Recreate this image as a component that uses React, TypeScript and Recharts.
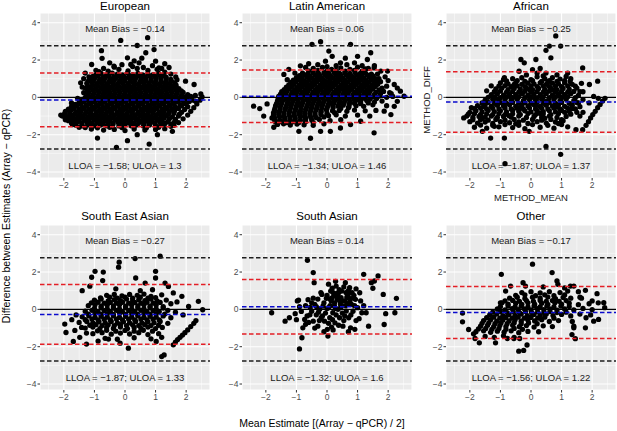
import React from 'react';
import {
  ScatterChart,
  Scatter,
  XAxis,
  YAxis,
  CartesianGrid,
  ReferenceLine,
  ReferenceDot,
} from 'recharts';

// values
const panelTitles = ['European', 'Latin American', 'African', 'South East Asian', 'South Asian', 'Other'];
const meanBias = [-0.14, 0.06, -0.25, -0.27, 0.14, -0.17];
const lloa = [-1.58, -1.34, -1.87, -1.87, -1.32, -1.56];
const uloa = [1.3, 1.46, 1.37, 1.33, 1.6, 1.22];
const outerLimits = [-2.77, 2.77];
const xTicks = [-2, -1, 0, 1, 2];
const yTicks = [-4, -2, 0, 2, 4];
const xMinor = [-2.5, -1.5, -0.5, 0.5, 1.5, 2.5];
const yMinor = [-3, -1, 1, 3];

const european: [number, number][] = [
  [-0.95, 1.45], [-0.7, 1.55], [-0.35, 1.62], [0.25, 1.65], [0.6, 1.6], [0.9, 1.7], [1.2, 1.55], [1.5, 1.25], [1.7, 0.95], [-1.35, 1.0], [-1.4, 0.55], [-0.1, 1.75], [1.3, 1.8], [-1.3, 1.3],
  [-0.55, 1.4], [-0.2, 1.5], [0.1, 1.42], [0.4, 1.55], [0.75, 1.45], [1.05, 1.5], [-0.85, 1.38], [1.3, 1.35],
  [-0.95, 1.22], [-0.78, 1.28], [-0.6, 1.2], [-0.42, 1.3], [-0.25, 1.24], [-0.08, 1.2], [0.08, 1.3], [0.25, 1.22], [0.42, 1.28], [0.58, 1.2], [0.75, 1.26], [0.92, 1.22], [1.1, 1.28], [1.25, 1.18],
  [-1.05, 1.12], [-0.88, 1.15], [-0.71, 1.1], [-0.54, 1.14], [-0.37, 1.11], [-0.2, 1.15], [-0.03, 1.1], [0.14, 1.13], [0.31, 1.11], [0.48, 1.15], [0.65, 1.1], [0.82, 1.14], [0.99, 1.11], [1.16, 1.15], [1.33, 1.1],
  [-1.15, 1.0], [-0.98, 1.05], [-0.82, 0.97], [-0.65, 1.03], [-0.48, 0.98], [-0.3, 1.04], [-0.14, 0.98], [0.02, 1.02], [0.18, 0.97], [0.35, 1.04], [0.52, 0.99], [0.68, 1.03], [0.85, 0.97], [1.02, 1.02], [1.18, 0.98], [1.35, 1.04], [1.5, 0.96],
  [-1.2, 0.87], [-1.03, 0.9], [-0.86, 0.85], [-0.69, 0.89], [-0.52, 0.86], [-0.35, 0.9], [-0.18, 0.85], [-0.01, 0.88], [0.16, 0.86], [0.33, 0.9], [0.5, 0.85], [0.67, 0.89], [0.84, 0.86], [1.01, 0.9], [1.18, 0.85], [1.35, 0.88], [1.52, 0.86],
  [-1.25, 0.75], [-1.08, 0.78], [-0.92, 0.72], [-0.75, 0.77], [-0.58, 0.73], [-0.41, 0.78], [-0.24, 0.72], [-0.07, 0.76], [0.1, 0.73], [0.27, 0.78], [0.44, 0.72], [0.61, 0.77], [0.78, 0.73], [0.95, 0.78], [1.12, 0.72], [1.29, 0.76], [1.46, 0.74], [1.63, 0.77],
  [-1.22, 0.62], [-1.05, 0.65], [-0.88, 0.6], [-0.71, 0.64], [-0.54, 0.61], [-0.37, 0.65], [-0.2, 0.6], [-0.03, 0.63], [0.14, 0.61], [0.31, 0.65], [0.48, 0.6], [0.65, 0.64], [0.82, 0.61], [0.99, 0.65], [1.16, 0.6], [1.33, 0.63], [1.5, 0.61], [1.67, 0.65],
  [-1.3, 0.5], [-1.13, 0.53], [-0.96, 0.47], [-0.79, 0.52], [-0.62, 0.48], [-0.45, 0.53], [-0.28, 0.47], [-0.11, 0.51], [0.06, 0.48], [0.23, 0.53], [0.4, 0.47], [0.57, 0.52], [0.74, 0.48], [0.91, 0.53], [1.08, 0.47], [1.25, 0.52], [1.42, 0.48], [1.59, 0.53], [1.76, 0.47],
  [-1.22, 0.37], [-1.05, 0.4], [-0.88, 0.35], [-0.71, 0.39], [-0.54, 0.36], [-0.37, 0.4], [-0.2, 0.35], [-0.03, 0.38], [0.14, 0.36], [0.31, 0.4], [0.48, 0.35], [0.65, 0.39], [0.82, 0.36], [0.99, 0.4], [1.16, 0.35], [1.33, 0.38], [1.5, 0.36], [1.67, 0.4], [1.84, 0.35],
  [-1.35, 0.25], [-1.18, 0.28], [-1.01, 0.22], [-0.84, 0.27], [-0.67, 0.23], [-0.5, 0.28], [-0.33, 0.22], [-0.16, 0.26], [0.01, 0.23], [0.18, 0.28], [0.35, 0.22], [0.52, 0.27], [0.69, 0.23], [0.86, 0.28], [1.03, 0.22], [1.2, 0.26], [1.37, 0.23], [1.54, 0.28], [1.71, 0.22], [1.9, 0.27],
  [-1.22, 0.12], [-1.05, 0.15], [-0.88, 0.1], [-0.71, 0.14], [-0.54, 0.11], [-0.37, 0.15], [-0.2, 0.1], [-0.03, 0.13], [0.14, 0.11], [0.31, 0.15], [0.48, 0.1], [0.65, 0.14], [0.82, 0.11], [0.99, 0.15], [1.16, 0.1], [1.33, 0.13], [1.5, 0.11], [1.67, 0.15], [1.85, 0.1], [2.05, 0.14],
  [-1.3, 0.0], [-1.13, 0.03], [-0.96, -0.03], [-0.79, 0.02], [-0.62, -0.02], [-0.45, 0.03], [-0.28, -0.03], [-0.11, 0.01], [0.06, -0.02], [0.23, 0.03], [0.4, -0.03], [0.57, 0.02], [0.74, -0.02], [0.91, 0.03], [1.08, -0.03], [1.25, 0.01], [1.42, -0.02], [1.59, 0.03], [1.76, -0.03], [1.95, 0.02], [2.15, 0.05], [2.3, 0.1],
  [-1.4, -0.13], [-1.22, -0.1], [-1.05, -0.15], [-0.88, -0.11], [-0.71, -0.14], [-0.54, -0.1], [-0.37, -0.15], [-0.2, -0.12], [-0.03, -0.14], [0.14, -0.1], [0.31, -0.15], [0.48, -0.11], [0.65, -0.14], [0.82, -0.1], [0.99, -0.15], [1.16, -0.12], [1.33, -0.14], [1.5, -0.1], [1.67, -0.15], [1.85, -0.12], [2.02, -0.1], [2.2, -0.14],
  [-1.5, -0.25], [-1.33, -0.22], [-1.16, -0.28], [-0.99, -0.23], [-0.82, -0.27], [-0.65, -0.22], [-0.48, -0.28], [-0.31, -0.24], [-0.14, -0.27], [0.03, -0.22], [0.2, -0.28], [0.37, -0.23], [0.54, -0.27], [0.71, -0.22], [0.88, -0.28], [1.05, -0.24], [1.22, -0.27], [1.39, -0.22], [1.56, -0.28], [1.73, -0.23], [1.92, -0.3], [2.1, -0.22], [2.3, -0.2],
  [-1.62, -0.38], [-1.45, -0.35], [-1.28, -0.4], [-1.11, -0.36], [-0.94, -0.39], [-0.77, -0.35], [-0.6, -0.4], [-0.43, -0.37], [-0.26, -0.39], [-0.09, -0.35], [0.08, -0.4], [0.25, -0.36], [0.42, -0.39], [0.59, -0.35], [0.76, -0.4], [0.93, -0.37], [1.1, -0.39], [1.27, -0.35], [1.44, -0.4], [1.61, -0.36], [1.8, -0.39], [2.0, -0.36],
  [-1.75, -0.5], [-1.58, -0.47], [-1.41, -0.53], [-1.24, -0.48], [-1.07, -0.52], [-0.9, -0.47], [-0.73, -0.53], [-0.56, -0.49], [-0.39, -0.52], [-0.22, -0.47], [-0.05, -0.53], [0.12, -0.48], [0.29, -0.52], [0.46, -0.47], [0.63, -0.53], [0.8, -0.49], [0.97, -0.52], [1.14, -0.47], [1.31, -0.53], [1.48, -0.48], [1.65, -0.52], [1.85, -0.45], [2.05, -0.5],
  [-1.85, -0.63], [-1.68, -0.6], [-1.51, -0.65], [-1.34, -0.61], [-1.17, -0.64], [-1.0, -0.6], [-0.83, -0.65], [-0.66, -0.62], [-0.49, -0.64], [-0.32, -0.6], [-0.15, -0.65], [0.02, -0.61], [0.19, -0.64], [0.36, -0.6], [0.53, -0.65], [0.7, -0.62], [0.87, -0.64], [1.04, -0.6], [1.21, -0.65], [1.38, -0.61], [1.55, -0.64], [1.75, -0.6], [1.95, -0.65],
  [-1.95, -0.75], [-1.78, -0.72], [-1.61, -0.78], [-1.44, -0.73], [-1.27, -0.77], [-1.1, -0.72], [-0.93, -0.78], [-0.76, -0.74], [-0.59, -0.77], [-0.42, -0.72], [-0.25, -0.78], [-0.08, -0.73], [0.09, -0.77], [0.26, -0.72], [0.43, -0.78], [0.6, -0.74], [0.77, -0.77], [0.94, -0.72], [1.11, -0.78], [1.28, -0.73], [1.45, -0.77], [1.62, -0.72], [1.85, -0.8],
  [-1.98, -0.88], [-1.81, -0.85], [-1.64, -0.9], [-1.47, -0.86], [-1.3, -0.89], [-1.13, -0.85], [-0.96, -0.9], [-0.79, -0.87], [-0.62, -0.89], [-0.45, -0.85], [-0.28, -0.9], [-0.11, -0.86], [0.06, -0.89], [0.23, -0.85], [0.4, -0.9], [0.57, -0.87], [0.74, -0.89], [0.91, -0.85], [1.08, -0.9], [1.25, -0.86], [1.42, -0.89], [1.6, -0.85], [1.78, -0.9],
  [-2.05, -1.0], [-1.88, -1.03], [-1.71, -0.97], [-1.54, -1.02], [-1.37, -0.98], [-1.2, -1.03], [-1.03, -0.97], [-0.86, -1.01], [-0.69, -0.98], [-0.52, -1.03], [-0.35, -0.97], [-0.18, -1.02], [-0.01, -0.98], [0.16, -1.03], [0.33, -0.97], [0.5, -1.01], [0.67, -0.98], [0.84, -1.03], [1.01, -0.97], [1.18, -1.02], [1.35, -0.98], [1.55, -1.05], [1.75, -1.0],
  [-1.95, -1.13], [-1.78, -1.1], [-1.61, -1.15], [-1.44, -1.11], [-1.27, -1.14], [-1.1, -1.1], [-0.93, -1.15], [-0.76, -1.12], [-0.59, -1.14], [-0.42, -1.1], [-0.25, -1.15], [-0.08, -1.11], [0.09, -1.14], [0.26, -1.1], [0.43, -1.15], [0.6, -1.12], [0.77, -1.14], [0.94, -1.1], [1.11, -1.15], [1.28, -1.11], [1.45, -1.14], [1.65, -1.18],
  [-1.85, -1.25], [-1.68, -1.22], [-1.51, -1.28], [-1.34, -1.23], [-1.17, -1.27], [-1.0, -1.22], [-0.83, -1.28], [-0.66, -1.24], [-0.49, -1.27], [-0.32, -1.22], [-0.15, -1.28], [0.02, -1.23], [0.19, -1.27], [0.36, -1.22], [0.53, -1.28], [0.7, -1.24], [0.87, -1.27], [1.04, -1.22], [1.21, -1.28], [1.4, -1.3], [1.62, -1.32],
  [-1.75, -1.38], [-1.58, -1.35], [-1.41, -1.4], [-1.24, -1.36], [-1.07, -1.39], [-0.9, -1.35], [-0.73, -1.4], [-0.56, -1.37], [-0.39, -1.39], [-0.22, -1.35], [-0.05, -1.4], [0.12, -1.36], [0.29, -1.39], [0.46, -1.35], [0.63, -1.4], [0.8, -1.37], [0.97, -1.39], [1.14, -1.35], [1.31, -1.4], [1.5, -1.42],
  [-1.62, -1.48], [-1.4, -1.52], [-1.2, -1.47], [-1.0, -1.53], [-0.8, -1.48], [-0.6, -1.52], [-0.4, -1.47], [-0.2, -1.53], [0.0, -1.48], [0.2, -1.52], [0.4, -1.47], [0.6, -1.53], [0.8, -1.48], [1.0, -1.52], [1.2, -1.47], [1.5, -1.55],
  [-1.5, -1.6], [-1.3, -1.62], [-1.1, -1.58], [-0.9, -1.63], [-0.5, -1.6], [-0.1, -1.62], [0.3, -1.58], [0.7, -1.63], [1.1, -1.6],
  [-1.1, -1.7], [-0.7, -1.75], [-0.35, -1.72], [0.0, -1.78], [0.3, -1.7], [0.65, -1.75], [1.0, -1.72], [1.3, -1.68],
  [1.6, -1.5], [1.75, -1.35], [1.9, -1.15], [2.05, -0.95], [2.15, -0.75], [2.25, -0.55], [2.35, -0.35], [2.45, -0.15], [2.52, 0.02],
  [-0.14, 3.05], [0.74, 3.2], [-0.77, 2.5], [0.4, 2.78], [0.95, 2.56], [0.68, 2.39], [-0.75, 2.09], [-1.09, 1.76], [0.08, 2.12], [0.19, 1.76], [0.46, 1.85], [1.0, 1.94], [1.11, 1.58], [1.44, 1.6], [1.66, 1.1], [1.98, 0.87], [2.26, 0.69], [2.48, 0.18], [-1.45, 0.78], [-1.18, 1.1], [-0.36, 1.67], [-0.9, -2.18], [-0.28, -2.68], [0.08, -2.32], [0.79, -2.5], [0.4, -2.0], [1.55, -1.82], [1.06, -2.0], [-1.95, -1.2], [-1.72, -1.46], [-2.1, -0.95], [-1.75, -0.3], [-1.55, -0.05], [0.3, 1.95], [0.55, 2.1], [-0.5, 1.85],
];

const latinAmerican: [number, number][] = [
  [-0.7, 1.6], [-0.3, 1.75], [0.3, 1.7], [0.65, 1.75], [1.15, 1.7], [1.35, 1.55], [1.65, 1.25], [1.9, 1.1], [-1.05, 1.3], [-1.3, 0.95], [1.95, 0.6], [2.1, 0.2], [0.0, 1.65], [1.55, 1.7],
  [-0.45, 1.55], [-0.15, 1.6], [0.15, 1.5], [0.45, 1.58], [0.75, 1.5], [1.0, 1.62], [1.25, 1.52],
  [-0.6, 1.42], [-0.3, 1.45], [0.0, 1.4], [0.3, 1.44], [0.6, 1.41], [0.9, 1.45], [1.15, 1.4],
  [-0.8, 1.3], [-0.62, 1.27], [-0.45, 1.33], [-0.28, 1.28], [-0.1, 1.32], [0.07, 1.27], [0.24, 1.33], [0.41, 1.28], [0.58, 1.32], [0.75, 1.27], [0.92, 1.33], [1.09, 1.28], [1.26, 1.3], [1.45, 1.25],
  [-0.9, 1.17], [-0.73, 1.2], [-0.56, 1.15], [-0.39, 1.19], [-0.22, 1.16], [-0.05, 1.2], [0.12, 1.15], [0.29, 1.18], [0.46, 1.16], [0.63, 1.2], [0.8, 1.15], [0.97, 1.19], [1.14, 1.16], [1.31, 1.2], [1.5, 1.15],
  [-1.0, 1.05], [-0.83, 1.02], [-0.66, 1.08], [-0.49, 1.03], [-0.32, 1.07], [-0.15, 1.02], [0.02, 1.08], [0.19, 1.04], [0.36, 1.07], [0.53, 1.02], [0.7, 1.08], [0.87, 1.03], [1.04, 1.07], [1.21, 1.02], [1.38, 1.08], [1.58, 1.0],
  [-1.1, 0.92], [-0.93, 0.95], [-0.76, 0.9], [-0.59, 0.94], [-0.42, 0.91], [-0.25, 0.95], [-0.08, 0.9], [0.09, 0.93], [0.26, 0.91], [0.43, 0.95], [0.6, 0.9], [0.77, 0.94], [0.94, 0.91], [1.11, 0.95], [1.28, 0.9], [1.45, 0.93], [1.65, 0.91],
  [-1.18, 0.8], [-1.01, 0.83], [-0.84, 0.77], [-0.67, 0.82], [-0.5, 0.78], [-0.33, 0.83], [-0.16, 0.77], [0.01, 0.81], [0.18, 0.78], [0.35, 0.83], [0.52, 0.77], [0.69, 0.82], [0.86, 0.78], [1.03, 0.83], [1.2, 0.77], [1.37, 0.81], [1.55, 0.78], [1.75, 0.84],
  [-1.25, 0.67], [-1.08, 0.7], [-0.91, 0.65], [-0.74, 0.69], [-0.57, 0.66], [-0.4, 0.7], [-0.23, 0.65], [-0.06, 0.68], [0.11, 0.66], [0.28, 0.7], [0.45, 0.65], [0.62, 0.69], [0.79, 0.66], [0.96, 0.7], [1.13, 0.65], [1.3, 0.68], [1.47, 0.66], [1.66, 0.7],
  [-1.33, 0.55], [-1.16, 0.58], [-0.99, 0.52], [-0.82, 0.57], [-0.65, 0.53], [-0.48, 0.58], [-0.31, 0.52], [-0.14, 0.56], [0.03, 0.53], [0.2, 0.58], [0.37, 0.52], [0.54, 0.57], [0.71, 0.53], [0.88, 0.58], [1.05, 0.52], [1.22, 0.56], [1.39, 0.53], [1.58, 0.58], [1.8, 0.5],
  [-1.4, 0.42], [-1.23, 0.45], [-1.06, 0.4], [-0.89, 0.44], [-0.72, 0.41], [-0.55, 0.45], [-0.38, 0.4], [-0.21, 0.43], [-0.04, 0.41], [0.13, 0.45], [0.3, 0.4], [0.47, 0.44], [0.64, 0.41], [0.81, 0.45], [0.98, 0.4], [1.15, 0.43], [1.32, 0.41], [1.5, 0.45], [1.7, 0.4],
  [-1.48, 0.3], [-1.31, 0.33], [-1.14, 0.27], [-0.97, 0.32], [-0.8, 0.28], [-0.63, 0.33], [-0.46, 0.27], [-0.29, 0.31], [-0.12, 0.28], [0.05, 0.33], [0.22, 0.27], [0.39, 0.32], [0.56, 0.28], [0.73, 0.33], [0.9, 0.27], [1.07, 0.31], [1.24, 0.28], [1.41, 0.33], [1.6, 0.27], [1.85, 0.32], [2.05, 0.25],
  [-1.52, 0.17], [-1.35, 0.2], [-1.18, 0.15], [-1.01, 0.19], [-0.84, 0.16], [-0.67, 0.2], [-0.5, 0.15], [-0.33, 0.18], [-0.16, 0.16], [0.01, 0.2], [0.18, 0.15], [0.35, 0.19], [0.52, 0.16], [0.69, 0.2], [0.86, 0.15], [1.03, 0.18], [1.2, 0.16], [1.37, 0.2], [1.55, 0.15], [1.75, 0.19],
  [-1.58, 0.05], [-1.41, 0.08], [-1.24, 0.02], [-1.07, 0.07], [-0.9, 0.03], [-0.73, 0.08], [-0.56, 0.02], [-0.39, 0.06], [-0.22, 0.03], [-0.05, 0.08], [0.12, 0.02], [0.29, 0.07], [0.46, 0.03], [0.63, 0.08], [0.8, 0.02], [0.97, 0.06], [1.14, 0.03], [1.31, 0.08], [1.5, 0.02], [1.72, 0.07], [1.95, 0.0], [2.15, 0.05],
  [-1.6, -0.08], [-1.5, -0.05], [-1.33, -0.1], [-1.16, -0.06], [-0.99, -0.09], [-0.82, -0.05], [-0.65, -0.1], [-0.48, -0.07], [-0.31, -0.09], [-0.14, -0.05], [0.03, -0.1], [0.2, -0.06], [0.37, -0.09], [0.54, -0.05], [0.71, -0.1], [0.88, -0.07], [1.05, -0.09], [1.22, -0.05], [1.4, -0.1], [1.62, -0.06],
  [-1.62, -0.2], [-1.45, -0.17], [-1.28, -0.23], [-1.11, -0.18], [-0.94, -0.22], [-0.77, -0.17], [-0.6, -0.23], [-0.43, -0.19], [-0.26, -0.22], [-0.09, -0.17], [0.08, -0.23], [0.25, -0.18], [0.42, -0.22], [0.59, -0.17], [0.76, -0.23], [0.93, -0.19], [1.1, -0.22], [1.3, -0.17], [1.55, -0.25], [1.8, -0.2],
  [-1.65, -0.33], [-1.48, -0.3], [-1.31, -0.35], [-1.14, -0.31], [-0.97, -0.34], [-0.8, -0.3], [-0.63, -0.35], [-0.46, -0.32], [-0.29, -0.34], [-0.12, -0.3], [0.05, -0.35], [0.22, -0.31], [0.39, -0.34], [0.56, -0.3], [0.73, -0.35], [0.9, -0.32], [1.1, -0.34], [1.35, -0.3],
  [-1.68, -0.45], [-1.51, -0.42], [-1.34, -0.48], [-1.17, -0.43], [-1.0, -0.47], [-0.83, -0.42], [-0.66, -0.48], [-0.49, -0.44], [-0.32, -0.47], [-0.15, -0.42], [0.02, -0.48], [0.19, -0.43], [0.36, -0.47], [0.53, -0.42], [0.72, -0.5], [0.95, -0.45], [1.2, -0.48], [1.5, -0.4],
  [-1.7, -0.58], [-1.53, -0.55], [-1.36, -0.6], [-1.19, -0.56], [-1.02, -0.59], [-0.85, -0.55], [-0.68, -0.6], [-0.51, -0.57], [-0.34, -0.59], [-0.17, -0.55], [0.0, -0.6], [0.2, -0.56], [0.45, -0.59], [0.7, -0.55],
  [-1.72, -0.7], [-1.55, -0.73], [-1.38, -0.67], [-1.21, -0.72], [-1.04, -0.68], [-0.87, -0.73], [-0.7, -0.67], [-0.53, -0.71], [-0.36, -0.68], [-0.19, -0.73], [-0.02, -0.67], [0.18, -0.72], [0.4, -0.7], [0.65, -0.75], [0.9, -0.68], [1.25, -0.72],
  [-1.75, -0.83], [-1.58, -0.8], [-1.41, -0.85], [-1.24, -0.81], [-1.07, -0.84], [-0.9, -0.8], [-0.73, -0.85], [-0.56, -0.82], [-0.39, -0.84], [-0.2, -0.8], [0.0, -0.85], [0.25, -0.82],
  [-1.75, -0.95], [-1.58, -0.92], [-1.41, -0.98], [-1.24, -0.93], [-1.07, -0.97], [-0.9, -0.92], [-0.73, -0.98], [-0.56, -0.94], [-0.39, -0.97], [-0.2, -0.92], [0.05, -0.98], [0.3, -0.93], [0.6, -1.0], [1.0, -0.95],
  [-1.72, -1.08], [-1.55, -1.05], [-1.38, -1.1], [-1.21, -1.06], [-1.04, -1.09], [-0.87, -1.05], [-0.7, -1.1], [-0.53, -1.07], [-0.35, -1.09], [-0.1, -1.05],
  [-1.72, -1.2], [-1.55, -1.23], [-1.38, -1.17], [-1.21, -1.22], [-1.04, -1.18], [-0.87, -1.23], [-0.7, -1.17], [-0.5, -1.21], [-0.25, -1.18], [0.1, -1.25], [0.45, -1.2],
  [-1.68, -1.32], [-1.5, -1.3], [-1.32, -1.35], [-1.12, -1.31], [-0.92, -1.34], [-0.7, -1.3], [-0.45, -1.35],
  [-1.62, -1.45], [-1.42, -1.42], [-1.2, -1.48], [-0.98, -1.43], [-0.75, -1.47], [-0.45, -1.5], [-0.1, -1.42],
  [-0.49, 2.84], [-0.21, 2.98], [0.77, 2.84], [0.06, 2.48], [0.17, 2.2], [-0.05, 1.94], [0.44, 1.85], [1.32, 2.03], [1.43, 2.39], [-1.25, 1.5], [-1.41, 1.23], [-0.87, 1.69], [1.54, 1.58], [1.76, 1.41], [1.98, 1.41], [2.2, 0.69], [2.4, 0.33], [2.52, 0.06], [2.3, -0.21], [2.2, -0.48], [2.09, -0.92], [1.87, -0.74], [-2.4, -0.47], [-2.2, -0.6], [-1.96, -0.35], [-2.07, -1.0], [-1.8, -1.1], [-1.74, -1.6], [-0.92, -1.82], [-0.54, -2.19], [-0.21, -1.82], [0.11, -1.82], [0.44, -1.64], [1.54, -1.9], [0.77, -1.46], [1.1, -1.28], [0.6, 2.1], [0.9, 1.85], [-0.6, 1.8], [2.0, 0.9], [1.7, 1.0], [1.6, -0.7], [1.4, -1.0], [2.3, 0.5], [1.95, -0.45], [1.0, 2.2],
];

const african: [number, number][] = [
  [-0.6, 1.0], [-0.3, 1.05], [0.0, 0.95], [0.2, 1.1], [0.45, 1.0], [0.7, 1.05], [0.95, 0.98], [1.3, 1.0],
  [-0.8, 0.88], [-0.45, 0.9], [-0.2, 0.86], [0.05, 0.9], [0.35, 0.86], [0.6, 0.9], [0.85, 0.86], [1.1, 0.9],
  [-1.0, 0.78], [-0.75, 0.72], [-0.5, 0.78], [-0.3, 0.7], [-0.1, 0.76], [0.1, 0.72], [0.3, 0.78], [0.5, 0.7], [0.7, 0.76], [0.9, 0.72], [1.1, 0.78], [1.35, 0.7],
  [-1.05, 0.6], [-0.85, 0.63], [-0.65, 0.58], [-0.45, 0.62], [-0.2, 0.58], [0.0, 0.62], [0.2, 0.58], [0.4, 0.62], [0.6, 0.58], [0.8, 0.62], [1.0, 0.58], [1.2, 0.62], [1.45, 0.6],
  [-1.15, 0.45], [-0.95, 0.5], [-0.75, 0.42], [-0.55, 0.48], [-0.35, 0.44], [-0.15, 0.5], [0.05, 0.42], [0.25, 0.48], [0.45, 0.44], [0.65, 0.5], [0.85, 0.42], [1.05, 0.48], [1.25, 0.44], [1.5, 0.5],
  [-1.2, 0.3], [-1.0, 0.33], [-0.8, 0.28], [-0.6, 0.32], [-0.4, 0.28], [-0.2, 0.33], [0.0, 0.28], [0.2, 0.32], [0.4, 0.28], [0.6, 0.33], [0.8, 0.28], [1.0, 0.32], [1.2, 0.28], [1.4, 0.32],
  [-1.3, 0.15], [-1.1, 0.2], [-0.9, 0.12], [-0.7, 0.18], [-0.5, 0.14], [-0.3, 0.2], [-0.1, 0.12], [0.1, 0.18], [0.3, 0.14], [0.5, 0.2], [0.7, 0.12], [0.9, 0.18], [1.1, 0.14], [1.3, 0.2], [1.55, 0.1],
  [-1.4, 0.0], [-1.2, 0.03], [-1.0, -0.02], [-0.8, 0.02], [-0.6, -0.02], [-0.4, 0.03], [-0.2, -0.02], [0.0, 0.02], [0.2, -0.02], [0.4, 0.03], [0.6, -0.02], [0.8, 0.02], [1.0, -0.02], [1.2, 0.03], [1.45, -0.02],
  [-1.5, -0.15], [-1.25, -0.1], [-1.05, -0.18], [-0.85, -0.12], [-0.65, -0.16], [-0.45, -0.1], [-0.25, -0.18], [-0.05, -0.12], [0.15, -0.16], [0.35, -0.1], [0.55, -0.18], [0.75, -0.12], [0.95, -0.16], [1.15, -0.1], [1.4, -0.18], [1.7, -0.12],
  [-1.6, -0.3], [-1.4, -0.27], [-1.2, -0.32], [-1.0, -0.28], [-0.8, -0.32], [-0.6, -0.27], [-0.4, -0.32], [-0.2, -0.28], [0.0, -0.32], [0.2, -0.27], [0.4, -0.32], [0.6, -0.28], [0.8, -0.32], [1.0, -0.27], [1.25, -0.32], [1.5, -0.28],
  [-1.75, -0.45], [-1.5, -0.4], [-1.3, -0.48], [-1.1, -0.42], [-0.9, -0.46], [-0.7, -0.4], [-0.5, -0.48], [-0.3, -0.42], [-0.1, -0.46], [0.1, -0.4], [0.3, -0.48], [0.5, -0.42], [0.7, -0.46], [0.9, -0.4], [1.1, -0.48], [1.35, -0.42], [1.6, -0.5],
  [-1.85, -0.6], [-1.65, -0.57], [-1.45, -0.62], [-1.25, -0.58], [-1.05, -0.62], [-0.85, -0.57], [-0.65, -0.62], [-0.45, -0.58], [-0.25, -0.62], [-0.05, -0.57], [0.15, -0.62], [0.35, -0.58], [0.55, -0.62], [0.75, -0.57], [0.95, -0.62], [1.2, -0.58], [1.45, -0.62],
  [-2.0, -0.8], [-1.8, -0.72], [-1.6, -0.78], [-1.4, -0.7], [-1.2, -0.76], [-1.0, -0.72], [-0.8, -0.78], [-0.6, -0.7], [-0.4, -0.76], [-0.2, -0.72], [0.0, -0.78], [0.2, -0.7], [0.4, -0.76], [0.6, -0.72], [0.8, -0.78], [1.0, -0.7], [1.25, -0.76], [1.5, -0.8],
  [-2.05, -0.9], [-1.85, -0.87], [-1.65, -0.92], [-1.45, -0.88], [-1.25, -0.92], [-1.05, -0.87], [-0.85, -0.92], [-0.6, -0.88], [-0.35, -0.92], [-0.1, -0.87], [0.15, -0.92], [0.4, -0.88], [0.65, -0.92], [0.9, -0.87], [1.3, -0.9],
  [-2.1, -1.0], [-1.9, -1.08], [-1.7, -1.02], [-1.5, -1.06], [-1.3, -1.0], [-1.1, -1.08], [-0.9, -1.02], [-0.65, -1.06], [-0.4, -1.0], [-0.15, -1.08], [0.1, -1.02], [0.35, -1.06], [0.6, -1.0], [0.85, -1.08], [1.15, -1.02],
  [-1.9, -1.2], [-1.65, -1.18], [-1.4, -1.22], [-1.15, -1.18], [-0.85, -1.22], [-0.55, -1.18], [-0.25, -1.22], [0.05, -1.18], [0.35, -1.22], [0.65, -1.18], [1.0, -1.2],
  [-2.0, -1.3], [-1.75, -1.38], [-1.5, -1.32], [-1.25, -1.4], [-1.0, -1.3], [-0.7, -1.36], [-0.4, -1.32], [-0.1, -1.4], [0.2, -1.3], [0.5, -1.38], [0.8, -1.32],
  [-1.65, -1.48], [-1.25, -1.5], [-0.85, -1.46], [-0.4, -1.5], [0.05, -1.46], [0.55, -1.5], [1.0, -1.46],
  [-1.85, -1.6], [-1.45, -1.65], [-1.05, -1.58], [-0.6, -1.62], [-0.2, -1.68], [0.3, -1.6], [0.75, -1.65], [1.2, -1.58],
  [-0.9, 0.95], [-0.15, 1.2], [0.4, 1.15], [0.85, 1.2], [1.15, 1.12], [-1.3, 0.62], [1.65, 0.75], [-1.45, 0.35], [1.6, 0.3], [-0.68, 0.05], [0.12, -0.06], [0.93, 0.08], [-1.15, -0.05], [0.48, -0.22], [-0.32, -0.55], [0.85, -0.52], [-1.55, -0.5], [0.28, -0.85], [-0.72, -0.98], [1.1, -0.8],
  [-1.6, -1.12], [0.45, -1.12], [-0.5, -1.42], [-1.2, -1.55], [0.9, -1.4], [1.35, -0.6], [1.7, -0.8], [1.55, -0.3], [-1.95, -0.55], [-2.2, -1.1], [-0.05, 0.42], [0.72, 0.4], [-0.55, 0.7], [1.28, 0.85], [-0.28, 0.22], [0.55, 0.82], [0.15, -0.45], [-0.88, -0.3], [1.05, -1.25], [0.2, 1.3],
  [1.8, -1.5], [1.88, -1.3], [1.95, -1.1], [2.02, -0.92], [2.1, -0.75], [2.18, -0.55], [2.26, -0.38], [2.34, -0.2], [2.42, -0.05], [1.9, -0.3], [2.05, 0.05], [2.2, -0.05],
  [0.81, 3.29], [0.97, 2.75], [0.6, 2.75], [0.49, 2.52], [0.65, 2.12], [0.16, 2.03], [-0.33, 2.03], [-0.22, 1.85], [-0.39, 1.4], [0.05, 1.49], [1.69, 1.58], [-0.87, 1.05], [1.91, 0.69], [2.18, 0.87], [0.49, 1.3], [-1.32, -2.18], [-0.87, -2.18], [0.49, -2.63], [0.97, -3.05], [-1.59, -1.82], [1.47, -1.73], [1.69, -1.73], [-0.06, -1.82], [0.3, 1.55], [1.2, 1.3], [1.7, 0.3], [1.6, -1.0], [-0.85, -3.55],
];

const southEastAsian: [number, number][] = [
  [-0.6, 0.75], [-0.35, 0.8], [-0.1, 0.72], [0.15, 0.8], [0.4, 0.75], [0.62, 0.82], [0.85, 0.7], [1.2, 0.78],
  [-0.8, 0.62], [-0.5, 0.65], [-0.25, 0.6], [0.0, 0.65], [0.25, 0.6], [0.5, 0.65], [0.75, 0.6], [1.0, 0.63],
  [-1.0, 0.5], [-0.78, 0.55], [-0.55, 0.45], [-0.35, 0.52], [-0.15, 0.47], [0.05, 0.55], [0.25, 0.45], [0.45, 0.52], [0.65, 0.47], [0.85, 0.55], [1.05, 0.45], [1.35, 0.5],
  [-1.1, 0.35], [-0.88, 0.38], [-0.68, 0.33], [-0.48, 0.37], [-0.28, 0.33], [-0.08, 0.38], [0.12, 0.33], [0.32, 0.37], [0.52, 0.33], [0.72, 0.38], [0.92, 0.33], [1.15, 0.37],
  [-1.2, 0.2], [-0.98, 0.25], [-0.78, 0.17], [-0.58, 0.23], [-0.38, 0.18], [-0.18, 0.25], [0.02, 0.17], [0.22, 0.23], [0.42, 0.18], [0.62, 0.25], [0.82, 0.17], [1.02, 0.23], [1.25, 0.15], [1.5, 0.3],
  [-1.0, 0.05], [-0.78, 0.08], [-0.58, 0.03], [-0.38, 0.07], [-0.18, 0.03], [0.02, 0.08], [0.22, 0.03], [0.42, 0.07], [0.62, 0.03], [0.82, 0.08], [1.02, 0.03], [1.25, 0.07],
  [-1.3, -0.1], [-1.08, -0.05], [-0.88, -0.13], [-0.68, -0.07], [-0.48, -0.12], [-0.28, -0.05], [-0.08, -0.13], [0.12, -0.07], [0.32, -0.12], [0.52, -0.05], [0.72, -0.13], [0.92, -0.07], [1.12, -0.12], [1.4, -0.05], [1.65, -0.15],
  [-1.2, -0.25], [-0.98, -0.22], [-0.78, -0.27], [-0.58, -0.23], [-0.38, -0.27], [-0.18, -0.22], [0.02, -0.27], [0.22, -0.23], [0.42, -0.27], [0.62, -0.22], [0.82, -0.27], [1.02, -0.23], [1.3, -0.25],
  [-1.4, -0.4], [-1.18, -0.35], [-0.98, -0.43], [-0.78, -0.37], [-0.58, -0.42], [-0.38, -0.35], [-0.18, -0.43], [0.02, -0.37], [0.22, -0.42], [0.42, -0.35], [0.62, -0.43], [0.82, -0.37], [1.02, -0.42], [1.25, -0.35], [1.5, -0.45],
  [-1.3, -0.55], [-1.08, -0.52], [-0.88, -0.57], [-0.68, -0.53], [-0.48, -0.57], [-0.28, -0.52], [-0.08, -0.57], [0.12, -0.53], [0.32, -0.57], [0.52, -0.52], [0.72, -0.57], [0.92, -0.53], [1.12, -0.57],
  [-1.5, -0.7], [-1.25, -0.65], [-1.05, -0.73], [-0.85, -0.67], [-0.65, -0.72], [-0.45, -0.65], [-0.25, -0.73], [-0.05, -0.67], [0.15, -0.72], [0.35, -0.65], [0.55, -0.73], [0.75, -0.67], [0.95, -0.72], [1.15, -0.65], [1.4, -0.75],
  [-1.15, -0.85], [-0.95, -0.82], [-0.75, -0.87], [-0.55, -0.83], [-0.35, -0.87], [-0.15, -0.82], [0.05, -0.87], [0.25, -0.83], [0.45, -0.87], [0.65, -0.82], [0.85, -0.87], [1.1, -0.85],
  [-1.3, -1.0], [-1.05, -0.95], [-0.82, -1.03], [-0.6, -0.97], [-0.38, -1.02], [-0.15, -0.95], [0.08, -1.03], [0.3, -0.97], [0.52, -1.02], [0.75, -0.95], [1.0, -1.03], [1.22, -0.97],
  [-0.9, -1.15], [-0.6, -1.12], [-0.3, -1.17], [0.0, -1.13], [0.3, -1.17], [0.6, -1.12], [0.9, -1.17],
  [-1.05, -1.3], [-0.75, -1.25], [-0.45, -1.33], [-0.15, -1.27], [0.15, -1.32], [0.45, -1.25], [0.75, -1.35], [1.1, -1.3],
  [-0.65, -1.55], [-0.25, -1.6], [0.3, -1.52], [0.85, -1.58], [1.2, -1.5],
  [1.58, -1.9], [1.65, -1.75], [1.72, -1.62], [1.8, -1.5], [1.88, -1.38], [1.96, -1.25], [2.05, -1.1], [2.15, -0.92], [2.25, -0.75], [2.32, -0.6],
  [0.33, 2.72], [1.15, 2.85], [-0.19, 2.53], [-0.21, 2.26], [-0.98, 2.04], [-1.09, 1.72], [-0.71, 2.0], [-0.73, 1.54], [-1.15, 1.24], [-1.4, 1.0], [0.35, 1.68], [1.0, 2.04], [1.0, 1.68], [1.31, 1.41], [1.42, 1.23], [0.66, 1.41], [1.58, 0.88], [1.86, 0.7], [2.08, 0.16], [2.4, 0.43], [2.54, -0.02], [1.2, -2.53], [1.28, -2.44], [1.02, -1.72], [0.11, -2.08], [-0.16, -1.81], [-1.26, -1.86], [-1.69, -1.72], [-1.97, -0.79], [-1.93, -1.24], [-1.64, -1.13], [-1.74, -0.55], [-1.42, -0.97], [-0.88, -1.7], [-0.54, -1.59], [-1.26, -1.27], [-1.48, -1.5], [0.5, 1.0], [-0.3, 1.1], [0.9, 1.05], [1.7, 0.4], [1.9, -0.3], [-1.6, -0.3],
];

const southAsian: [number, number][] = [
  [-0.64, 2.63], [-0.45, 1.97], [-0.42, 1.43], [-1.81, -0.18], [-1.37, -0.63], [-1.23, -0.45], [-1.04, -0.23], [-0.97, 0.45], [-0.93, 0.5], [-0.9, 0.14], [-0.84, -0.11], [-0.73, -0.54], [-0.79, -0.99], [-0.82, -1.52], [-0.9, -2.12],
  [-0.62, 0.52], [-0.56, -0.29], [-0.5, -0.1], [-0.45, -0.63], [-0.4, 0.27], [-0.35, -0.29], [-0.3, -0.9], [-0.24, 0.0], [-0.19, -0.45], [-0.17, 0.8], [-0.13, 0.18], [-0.08, -0.63], [-0.05, -0.2], [-0.02, 0.59], [0.01, -1.07], [0.03, -1.43], [0.05, 0.09], [0.09, -0.45], [0.12, 0.98], [0.14, 0.45], [0.17, 1.13], [0.19, -0.18], [0.22, 0.71], [0.24, 0.18], [0.26, -0.72], [0.3, 1.25], [0.33, 0.54], [0.36, 0.0], [0.38, 0.89], [0.41, -0.45], [0.44, 0.27], [0.46, 0.63], [0.48, 0.98], [0.52, -0.9], [0.58, 0.45], [0.6, 1.43], [0.63, -0.09], [0.69, 0.8], [0.71, -0.45], [0.74, 1.16], [0.77, -0.99], [0.8, 0.27], [0.82, 0.89], [0.85, -0.1], [0.91, -1.07], [0.93, 0.54], [1.0, 0.09], [1.07, 0.89],
  [1.2, 1.88], [1.14, -0.18], [1.28, -0.18], [1.36, -0.9], [1.45, 1.43], [1.55, 1.52], [1.5, 1.13], [1.67, 1.79], [1.84, 0.8], [1.92, -0.23], [1.87, -0.81], [2.27, 0.59], [2.22, -0.18],
  [-0.7, 0.2], [-0.6, -0.7], [-0.55, 0.1], [-0.3, 0.55], [-0.25, -0.6], [-0.1, 0.35], [0.0, 0.75], [0.05, -0.75], [0.1, 0.2], [0.15, -0.95], [0.2, 0.9], [0.25, 0.35], [0.3, -0.3], [0.35, 0.7], [0.4, 1.05], [0.45, 0.1], [0.5, 0.45], [0.55, -0.6], [0.6, 0.2], [0.65, 0.65], [0.7, 1.0], [0.75, 0.4], [0.85, 0.6], [0.9, 0.2], [0.95, 1.1], [0.2, -1.1], [-0.1, -1.2], [-0.4, -1.0], [-0.65, -0.35], [0.05, 1.35], [0.28, 1.5], [0.55, 1.2], [-0.2, 0.9], [-0.5, 0.35], [0.7, -1.2], [1.1, 0.45], [1.2, 0.2], [-1.0, -0.55], [-0.7, -0.8], [0.15, 0.6],
  [-0.35, 0.15], [-0.15, -0.35], [0.0, 0.05], [0.1, 0.55], [0.18, -0.55], [0.28, 0.05], [0.32, 0.85], [0.42, 0.45], [0.5, -0.2], [0.62, 0.9], [0.68, 0.3], [0.78, -0.3], [0.88, 0.75], [0.95, -0.6], [-0.45, 0.6], [-0.28, -0.15], [0.38, -0.85], [0.58, -0.35], [0.72, 0.6], [1.05, -0.5],
];

const other: [number, number][] = [
  [-0.3, 0.9], [0.0, 0.95], [0.3, 0.88], [0.6, 0.95], [0.95, 0.9], [1.2, 0.98],
  [-0.5, 0.75], [-0.2, 0.78], [0.15, 0.73], [0.45, 0.78], [0.75, 0.73], [1.1, 0.77],
  [-0.7, 0.6], [-0.45, 0.65], [-0.2, 0.58], [0.05, 0.65], [0.3, 0.6], [0.55, 0.66], [0.8, 0.58], [1.05, 0.64], [1.3, 0.6], [1.6, 0.65],
  [-0.85, 0.45], [-0.6, 0.48], [-0.38, 0.43], [-0.15, 0.47], [0.08, 0.43], [0.3, 0.48], [0.5, 0.43], [0.7, 0.47], [0.92, 0.43], [1.15, 0.47],
  [-1.0, 0.35], [-0.75, 0.28], [-0.5, 0.33], [-0.3, 0.27], [-0.1, 0.35], [0.12, 0.28], [0.35, 0.33], [0.55, 0.27], [0.78, 0.35], [1.0, 0.28], [1.25, 0.33], [1.55, 0.25], [1.9, 0.3], [2.2, 0.35],
  [-1.0, 0.15], [-0.75, 0.18], [-0.52, 0.13], [-0.32, 0.17], [-0.1, 0.13], [0.1, 0.18], [0.3, 0.13], [0.52, 0.17], [0.75, 0.13], [0.98, 0.17], [1.25, 0.15],
  [-1.1, 0.02], [-0.85, -0.03], [-0.62, 0.04], [-0.42, -0.02], [-0.22, 0.03], [0.0, -0.03], [0.2, 0.04], [0.42, -0.02], [0.62, 0.03], [0.85, -0.04], [1.1, 0.02], [1.4, -0.03], [1.7, 0.05], [2.0, -0.02],
  [-1.25, -0.15], [-1.0, -0.12], [-0.78, -0.17], [-0.58, -0.13], [-0.38, -0.17], [-0.18, -0.12], [0.02, -0.17], [0.22, -0.13], [0.42, -0.17], [0.62, -0.12], [0.85, -0.17], [1.15, -0.15],
  [-1.35, -0.3], [-1.12, -0.25], [-0.92, -0.33], [-0.72, -0.27], [-0.52, -0.32], [-0.32, -0.25], [-0.12, -0.33], [0.1, -0.27], [0.3, -0.32], [0.5, -0.25], [0.72, -0.33], [1.0, -0.27], [1.3, -0.35], [1.6, -0.25], [1.95, -0.3],
  [-1.45, -0.45], [-1.22, -0.42], [-1.02, -0.47], [-0.82, -0.43], [-0.62, -0.47], [-0.42, -0.42], [-0.22, -0.47], [0.0, -0.43], [0.22, -0.47], [0.45, -0.42], [0.75, -0.47],
  [-1.55, -0.6], [-1.32, -0.55], [-1.12, -0.63], [-0.92, -0.57], [-0.72, -0.62], [-0.52, -0.55], [-0.32, -0.63], [-0.1, -0.57], [0.12, -0.62], [0.35, -0.55], [0.6, -0.65], [0.9, -0.6], [1.35, -0.65],
  [-1.6, -0.75], [-1.38, -0.72], [-1.18, -0.77], [-0.98, -0.73], [-0.78, -0.77], [-0.55, -0.72], [-0.32, -0.77], [-0.08, -0.73], [0.2, -0.77],
  [-1.65, -0.9], [-1.42, -0.85], [-1.22, -0.93], [-1.02, -0.87], [-0.82, -0.92], [-0.6, -0.85], [-0.38, -0.93], [-0.15, -0.87], [0.1, -0.95], [0.4, -0.88], [0.7, -0.92], [1.4, -0.9],
  [-1.72, -1.05], [-1.48, -1.02], [-1.28, -1.07], [-1.05, -1.03], [-0.82, -1.07], [-0.55, -1.02], [-0.28, -1.07],
  [-1.8, -1.2], [-1.55, -1.15], [-1.32, -1.23], [-1.1, -1.17], [-0.88, -1.22], [-0.65, -1.15], [-0.4, -1.25], [-0.1, -1.18], [0.25, -1.2],
  [-1.5, -1.45], [-1.2, -1.5], [-0.9, -1.42], [-0.55, -1.5],
  [0.05, 2.42], [-0.97, 1.88], [0.69, 1.97], [0.85, 1.52], [0.88, 1.34], [-0.26, 1.43], [-0.18, 1.25], [-0.67, 1.25], [-0.83, 0.98], [1.29, 1.25], [1.4, 1.25], [1.78, 1.02], [2.16, 0.84], [2.38, 0.36], [2.41, 0.09], [2.21, -0.54], [2.05, -0.63], [1.8, -0.45], [1.78, -0.99], [1.4, -0.99], [1.34, -1.35], [1.45, -1.57], [-0.4, -2.24], [-0.24, -2.2], [-0.13, -1.91], [-2.24, -0.2], [-2.24, -0.67], [-2.04, -1.08], [-1.88, -1.31], [-1.83, -1.56], [-1.69, -1.79], [-1.16, -1.79], [-0.77, -1.56], [-0.56, -1.56], [-0.37, -1.56], [-0.95, 0.35], [0.4, 1.2], [1.1, 1.15], [1.65, 0.6], [2.0, 0.45], [1.55, 0.95],
];

const panelData = [european, latinAmerican, african, southEastAsian, southAsian, other];

// layout (pixels)
const colLeft = [40, 242, 446];
const rowTop = [13, 225];
const PLOT_W = 170;
const PLOT_H = 165;
const Y_AXIS_W = 20;
const X_AXIS_H = 18;
const X_DOMAIN: [number, number] = [-2.78, 2.78];
const Y_DOMAIN: [number, number] = [-4.32, 4.52];
const FONT = '"Liberation Sans", Arial, Helvetica, sans-serif';

const minus = (v: number | string) => String(v).replace('-', '\u2212');

const Dot = (props: any) => <circle cx={props.cx} cy={props.cy} r={2.65} fill="#000" />;

const Panel = ({ idx }: { idx: number }) => {
  const data = panelData[idx].map(([x, y]) => ({ x, y }));
  const col = idx % 3;
  const row = Math.floor(idx / 3);
  const tickStyle = { fontSize: 8.5, fill: '#4D4D4D', fontFamily: FONT };
  const dash = '4.5 2.5';
  return (
    <div style={{ position: 'absolute', left: colLeft[col] - Y_AXIS_W, top: rowTop[row] }}>
      <ScatterChart
        width={PLOT_W + Y_AXIS_W}
        height={PLOT_H + X_AXIS_H}
        margin={{ top: 0, right: 0, bottom: 0, left: 0 }}
      >
        <CartesianGrid fill="#EBEBEB" stroke="#FFFFFF" strokeWidth={1.1} />
        <CartesianGrid
          horizontalValues={yMinor}
          verticalValues={xMinor}
          stroke="#FFFFFF"
          strokeWidth={0.5}
        />
        <XAxis
          type="number"
          dataKey="x"
          domain={X_DOMAIN}
          ticks={xTicks}
          allowDataOverflow
          height={X_AXIS_H}
          axisLine={false}
          tickSize={2.5}
          tickMargin={1}
          tickLine={{ stroke: '#333333' }}
          tick={tickStyle}
          tickFormatter={minus}
          interval={0}
        />
        <YAxis
          type="number"
          dataKey="y"
          domain={Y_DOMAIN}
          ticks={yTicks}
          allowDataOverflow
          width={Y_AXIS_W}
          axisLine={false}
          tickSize={2.5}
          tickMargin={1}
          tickLine={{ stroke: '#333333' }}
          tick={tickStyle}
          tickFormatter={minus}
          interval={0}
        />
        <Scatter data={data} fill="#000" shape={Dot} isAnimationActive={false} />
        <ReferenceLine y={0} stroke="#000" strokeWidth={1.4} zIndex={700} />
        <ReferenceLine y={outerLimits[0]} stroke="#1E1E1E" strokeWidth={1.5} strokeDasharray={dash} zIndex={700} />
        <ReferenceLine y={outerLimits[1]} stroke="#1E1E1E" strokeWidth={1.5} strokeDasharray={dash} zIndex={700} />
        <ReferenceLine y={lloa[idx]} stroke="#E41F26" strokeWidth={1.5} strokeDasharray={dash} zIndex={700} />
        <ReferenceLine y={uloa[idx]} stroke="#E41F26" strokeWidth={1.5} strokeDasharray={dash} zIndex={700} />
        <ReferenceLine y={meanBias[idx]} stroke="#0A0ACC" strokeWidth={1.5} strokeDasharray={dash} zIndex={700} />
        <ReferenceDot
          x={0}
          y={3.68}
          r={0}
          fill="none"
          stroke="none"
          label={{
            value: `Mean Bias = ${minus(meanBias[idx])}`,
            position: 'center',
            fill: '#1A1A1A',
            fontSize: 9.5,
            fontFamily: FONT,
          }}
        />
        <ReferenceDot
          x={0}
          y={-3.66}
          r={0}
          fill="none"
          stroke="none"
          label={{
            value: `LLOA = ${minus(lloa[idx])}; ULOA = ${minus(uloa[idx])}`,
            position: 'center',
            fill: '#1A1A1A',
            fontSize: 9.5,
            fontFamily: FONT,
          }}
        />
      </ScatterChart>
    </div>
  );
};

export default function App() {
  const titleY = [6, 216];
  return (
    <div
      style={{
        position: 'absolute',
        left: 0,
        top: 0,
        width: 617,
        height: 431,
        background: '#FFFFFF',
        fontFamily: FONT,
        overflow: 'hidden',
      }}
    >
      {panelTitles.map((_, i) => (
        <Panel key={i} idx={i} />
      ))}
      <svg
        width={617}
        height={431}
        style={{ position: 'absolute', left: 0, top: 0, pointerEvents: 'none' }}
        fontFamily={FONT}
      >
        {panelTitles.map((t, i) => (
          <text
            key={t}
            x={colLeft[i % 3] + PLOT_W / 2}
            y={titleY[Math.floor(i / 3)]}
            textAnchor="middle"
            dominantBaseline="central"
            fontSize={11.5}
            fill="#000"
          >
            {t}
          </text>
        ))}
        <text
          x={6}
          y={216}
          transform="rotate(-90 6 216)"
          textAnchor="middle"
          dominantBaseline="central"
          fontSize={10.5}
          fill="#000"
        >
          Difference between Estimates (Array − qPCR)
        </text>
        <text x={322} y={423} textAnchor="middle" dominantBaseline="central" fontSize={10.5} fill="#000">
          Mean Estimate [(Array − qPCR) / 2]
        </text>
        <text
          x={426}
          y={100}
          transform="rotate(-90 426 100)"
          textAnchor="middle"
          dominantBaseline="central"
          fontSize={9.5}
          fill="#1A1A1A"
        >
          METHOD_DIFF
        </text>
        <text x={531} y={197} textAnchor="middle" dominantBaseline="central" fontSize={9.5} fill="#1A1A1A">
          METHOD_MEAN
        </text>
      </svg>
    </div>
  );
}
